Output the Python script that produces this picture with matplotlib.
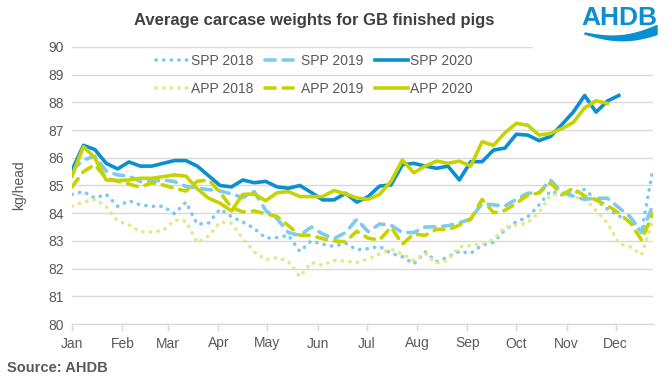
import numpy as np
import matplotlib
matplotlib.use('Agg')
import matplotlib.pyplot as plt
from matplotlib.patches import Rectangle, Polygon

plt.rcParams['font.family'] = ['Liberation Sans', 'DejaVu Sans']

# weekly carcase weights (kg/head), week 1 .. 52
spp_2018 = [84.68, 84.78, 84.55, 84.68, 84.25, 84.45, 84.3, 84.25, 84.25, 83.98,
            84.4, 83.6, 83.65, 84.15, 83.87, 83.68, 83.45, 83.1, 83.12, 83.2,
            82.62, 83.0, 82.88, 82.8, 82.92, 82.68, 82.72, 82.8, 82.55, 82.43,
            82.17, 82.6, 82.25, 82.42, 82.62, 82.55, 82.85, 82.95, 83.4, 83.69,
            83.86, 84.3, 84.8, 84.66, 84.72, 84.86, 84.48, 84.15, 83.9, 83.7,
            83.35, 85.6]
spp_2019 = [85.56, 85.92, 86.06, 85.52, 85.38, 85.34, 85.14, 85.14, 85.2, 85.14,
            84.97, 84.9, 84.85, 84.8, 84.7, 84.56, 84.78, 84.1, 83.8, 83.3,
            83.2, 83.5, 83.25, 83.08, 83.3, 83.78, 83.33, 83.61, 83.57, 83.3,
            83.3, 83.5, 83.51, 83.55, 83.65, 83.8, 84.35, 84.3, 84.26, 84.5,
            84.72, 84.74, 85.2, 84.75, 84.62, 84.5, 84.54, 84.54, 84.2, 83.87,
            83.3, 84.3]
spp_2020 = [85.55, 86.45, 86.3, 85.8, 85.6, 85.85, 85.7, 85.7, 85.8, 85.9,
            85.9, 85.7, 85.35, 85.0, 84.95, 85.2, 85.1, 85.15, 84.95, 84.9,
            85.0, 84.75, 84.48, 84.48, 84.72, 84.4, 84.6, 84.98, 85.02, 85.75,
            85.8, 85.7, 85.62, 85.7, 85.2, 85.86, 85.86, 86.28, 86.35, 86.85,
            86.82, 86.62, 86.77, 87.2, 87.65, 88.25, 87.65, 88.05, 88.25]
app_2018 = [84.26, 84.4, 84.5, 84.25, 83.72, 83.58, 83.33, 83.32, 83.38, 83.75,
            83.72, 82.94, 83.18, 83.68, 83.64, 83.08, 82.6, 82.32, 82.4, 82.25,
            81.71, 82.22, 82.12, 82.3, 82.27, 82.22, 82.36, 82.53, 82.7, 82.52,
            82.3, 82.55, 82.2, 82.3, 82.79, 82.83, 82.91, 83.05, 83.5, 83.57,
            83.65, 84.03, 84.64, 84.7, 84.58, 84.52, 84.1, 83.65, 82.9, 82.78,
            82.5, 83.8]
app_2019 = [84.95, 85.5, 85.75, 85.26, 85.16, 85.05, 84.94, 85.1, 85.02, 84.9,
            84.8, 85.15, 85.2, 84.75, 84.2, 84.05, 84.08, 83.98, 83.88, 83.55,
            83.2, 83.2, 83.08, 83.0, 82.97, 83.35, 83.1, 83.03, 83.5, 82.88,
            83.25, 83.2, 83.42, 83.4, 83.57, 83.78, 84.5, 84.02, 84.1, 84.36,
            84.65, 84.73, 85.1, 84.66, 84.9, 84.62, 84.48, 84.28, 84.0, 83.66,
            83.03, 84.0]
app_2020 = [85.34, 86.4, 86.0, 85.2, 85.18, 85.2, 85.26, 85.26, 85.32, 85.38,
            85.34, 84.88, 84.54, 84.36, 84.08, 84.68, 84.69, 84.45, 84.74, 84.78,
            84.6, 84.6, 84.6, 84.82, 84.7, 84.55, 84.5, 84.68, 85.15, 85.92,
            85.46, 85.7, 85.88, 85.8, 85.88, 85.7, 86.58, 86.45, 86.9, 87.24,
            87.18, 86.82, 86.88, 87.05, 87.28, 87.8, 88.06, 87.96]

months = ['Jan', 'Feb', 'Mar', 'Apr', 'May', 'Jun', 'Jul', 'Aug', 'Sep', 'Oct', 'Nov', 'Dec']
month_days = [0, 31, 59, 90, 120, 151, 181, 212, 243, 273, 304, 334]


def week_days(vals):
    return np.arange(len(vals)) * 7


blue = '#0a8fd2'
light_blue = '#7fcbec'
green = '#c6d300'
light_green = '#e2e98a'
grey = '#595959'

fig = plt.figure(figsize=(6.69, 3.78), dpi=100)
ax = fig.add_axes([72 / 669, 1 - 324 / 378, (653 - 72) / 669, (324 - 47) / 378])

dot = (0, (0.1, 2.0))
dash = (0, (2.8, 2.2))
lw = 2.6

ax.plot(week_days(spp_2018), spp_2018, color=light_blue, lw=lw, ls=dot,
        dash_capstyle='round', label='SPP 2018')
ax.plot(week_days(app_2018), app_2018, color=light_green, lw=lw, ls=dot,
        dash_capstyle='round', label='APP 2018')
ax.plot(week_days(spp_2019), spp_2019, color=light_blue, lw=lw, ls=dash,
        dash_capstyle='round', label='SPP 2019')
ax.plot(week_days(app_2019), app_2019, color=green, lw=lw, ls=dash,
        dash_capstyle='round', label='APP 2019')
ax.plot(week_days(spp_2020), spp_2020, color=blue, lw=lw, label='SPP 2020')
ax.plot(week_days(app_2020), app_2020, color=green, lw=lw, label='APP 2020')

ax.set_xlim(0, 357)
ax.set_ylim(80, 90)
ax.set_yticks(range(80, 91))
ax.set_xticks(month_days)
ax.set_xticklabels(months)
ax.grid(axis='y', color='#d9d9d9', lw=1)
ax.set_axisbelow(True)
for s in ['top', 'right', 'left']:
    ax.spines[s].set_visible(False)
ax.spines['bottom'].set_color('#d9d9d9')
ax.spines['bottom'].set_linewidth(1)
ax.tick_params(axis='x', colors='#d9d9d9', length=5, width=1, labelcolor=grey,
               labelsize=10, pad=4)
ax.tick_params(axis='y', length=0, labelcolor=grey, labelsize=10, pad=6)
ax.set_ylabel('kg/head', color=grey, fontsize=10, labelpad=16)

# legend laid out in two rows (SPP on top, APP below)
h, l = ax.get_legend_handles_labels()
leg = fig.legend(h, l, ncol=3, loc='center left', bbox_to_anchor=(143 / 669, 1 - 75 / 378),
                 frameon=False, fontsize=10, handlelength=2.4, handletextpad=0.15,
                 columnspacing=0.85, labelspacing=1.05, labelcolor=grey)

fig.text(314 / 669, 1 - 21 / 378, 'Average carcase weights for GB finished pigs',
         ha='center', va='center', fontsize=12, fontweight='bold', color='#404040')
fig.text(7 / 669, 1 - 368 / 378, 'Source: AHDB', ha='left', va='center',
         fontsize=10.5, fontweight='bold', color=grey)

# AHDB logo on a white patch
ov = fig.add_axes([0, 0, 1, 1], facecolor='none')
ov.set_xlim(0, 669)
ov.set_ylim(378, 0)
ov.axis('off')
ov.add_patch(Rectangle((533, 0), 136, 51, color='white', zorder=1))
ov.text(619, 18, 'AHDB', ha='center', va='center', fontsize=19, fontweight='bold',
        color=blue, zorder=2)
t = np.linspace(0, 1, 40)
top_x = 585 + 72 * t
top_y = 33 + 5 * np.sin(np.pi * t * 0.9) - 9 * t ** 2
bot_y = top_y + 1 + 8 * t
pts = np.column_stack([np.concatenate([top_x, top_x[::-1]]),
                       np.concatenate([top_y, bot_y[::-1]])])
ov.add_patch(Polygon(pts, closed=True, color=blue, zorder=2))

fig.savefig('out.png', dpi=100)
